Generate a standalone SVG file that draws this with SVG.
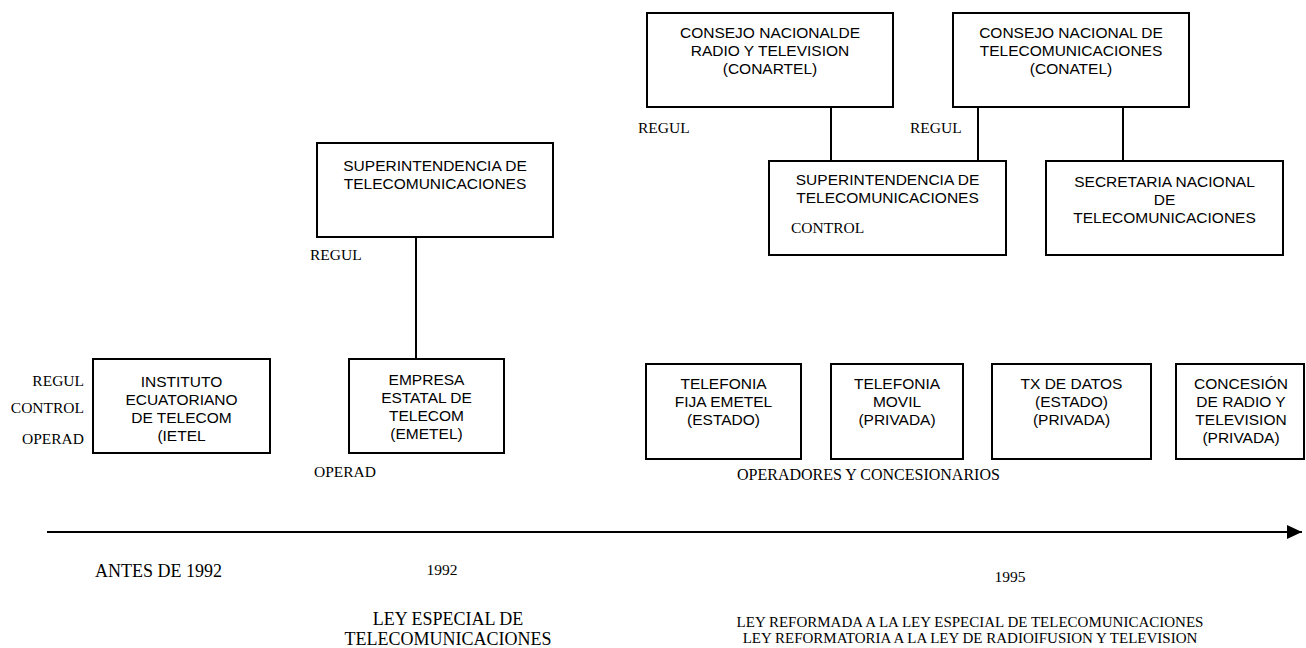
<svg xmlns="http://www.w3.org/2000/svg" width="1306" height="648" viewBox="0 0 1306 648">
<style>
.box{fill:#fff;stroke:#000;stroke-width:2}
.t{font-family:"Liberation Sans",Arial,sans-serif;font-size:15.5px;fill:#000;text-anchor:middle}
.s{font-family:"Liberation Serif","Times New Roman",serif;font-size:15.5px;fill:#000}
.e{text-anchor:end}
.m{text-anchor:middle}
.ln{stroke:#000;stroke-width:2;fill:none}
</style>
<defs>
<marker id="ah" markerWidth="15" markerHeight="14" refX="15" refY="7" orient="auto" markerUnits="userSpaceOnUse">
<path d="M0,0 L15,7 L0,14 Z" fill="#000"/>
</marker>
</defs>
<rect width="1306" height="648" fill="#fff"/>
<g id="connectors">
<line class="ln" x1="416" y1="237" x2="416" y2="359"/>
<line class="ln" x1="831" y1="107" x2="831" y2="161"/>
<line class="ln" x1="978" y1="107" x2="978" y2="161"/>
<line class="ln" x1="1123" y1="107" x2="1123" y2="161"/>
<line class="ln" x1="47" y1="532" x2="1302" y2="532" marker-end="url(#ah)"/>
</g>
<g id="ietel">
<rect class="box" x="93" y="359" width="177" height="94"/>
<text class="t" x="181.5" y="387">INSTITUTO</text>
<text class="t" x="181.5" y="405">ECUATORIANO</text>
<text class="t" x="181.5" y="423">DE TELECOM</text>
<text class="t" x="181.5" y="441">(IETEL</text>
</g>
<g id="labels-antes">
<text class="s e" x="84" y="386">REGUL</text>
<text class="s e" x="84" y="413">CONTROL</text>
<text class="s e" x="84" y="444">OPERAD</text>
</g>
<g id="supertel-1992">
<rect class="box" x="317" y="143" width="236" height="94"/>
<text class="t" x="435" y="171">SUPERINTENDENCIA DE</text>
<text class="t" x="435" y="189">TELECOMUNICACIONES</text>
</g>
<text class="s" x="310" y="260">REGUL</text>
<g id="emetel">
<rect class="box" x="349" y="359" width="155" height="94"/>
<text class="t" x="426.5" y="385">EMPRESA</text>
<text class="t" x="426.5" y="403">ESTATAL DE</text>
<text class="t" x="426.5" y="421">TELECOM</text>
<text class="t" x="426.5" y="439">(EMETEL)</text>
</g>
<text class="s" x="314" y="477">OPERAD</text>
<g id="conartel">
<rect class="box" x="647" y="13" width="246" height="94"/>
<text class="t" x="770" y="38">CONSEJO NACIONALDE</text>
<text class="t" x="770" y="56">RADIO Y TELEVISION</text>
<text class="t" x="770" y="74">(CONARTEL)</text>
</g>
<g id="conatel">
<rect class="box" x="953" y="13" width="236" height="94"/>
<text class="t" x="1071" y="38">CONSEJO NACIONAL DE</text>
<text class="t" x="1071" y="56">TELECOMUNICACIONES</text>
<text class="t" x="1071" y="74">(CONATEL)</text>
</g>
<text class="s" x="638" y="133">REGUL</text>
<text class="s" x="910" y="133">REGUL</text>
<g id="supertel-1995">
<rect class="box" x="769" y="161" width="237" height="94"/>
<text class="t" x="887.5" y="185">SUPERINTENDENCIA DE</text>
<text class="t" x="887.5" y="203">TELECOMUNICACIONES</text>
<text class="s" x="791" y="233">CONTROL</text>
</g>
<g id="senatel">
<rect class="box" x="1046" y="161" width="237" height="94"/>
<text class="t" x="1164.5" y="187">SECRETARIA NACIONAL</text>
<text class="t" x="1164.5" y="205">DE</text>
<text class="t" x="1164.5" y="223">TELECOMUNICACIONES</text>
</g>
<g id="fija">
<rect class="box" x="646" y="364" width="155" height="95"/>
<text class="t" x="723.5" y="389">TELEFONIA</text>
<text class="t" x="723.5" y="407">FIJA EMETEL</text>
<text class="t" x="723.5" y="425">(ESTADO)</text>
</g>
<g id="movil">
<rect class="box" x="831" y="364" width="132" height="95"/>
<text class="t" x="897" y="389">TELEFONIA</text>
<text class="t" x="897" y="407">MOVIL</text>
<text class="t" x="897" y="425">(PRIVADA)</text>
</g>
<g id="datos">
<rect class="box" x="992" y="364" width="159" height="95"/>
<text class="t" x="1071.5" y="389">TX DE DATOS</text>
<text class="t" x="1071.5" y="407">(ESTADO)</text>
<text class="t" x="1071.5" y="425">(PRIVADA)</text>
</g>
<g id="radio">
<rect class="box" x="1176" y="364" width="128" height="95"/>
<text class="t" x="1241" y="389">CONCESIÓN</text>
<text class="t" x="1241" y="407">DE RADIO Y</text>
<text class="t" x="1241" y="425">TELEVISION</text>
<text class="t" x="1241" y="443">(PRIVADA)</text>
</g>
<text class="s" x="737" y="480" style="font-size:16px">OPERADORES Y CONCESIONARIOS</text>
<g id="timeline-labels">
<text class="s" x="95" y="577" style="font-size:18px">ANTES DE 1992</text>
<text class="s m" x="442" y="575" style="font-size:15.5px">1992</text>
<text class="s m" x="1010" y="582" style="font-size:15.5px">1995</text>
<text class="s m" x="448" y="625" style="font-size:18px">LEY ESPECIAL DE</text>
<text class="s m" x="448" y="645" style="font-size:18px">TELECOMUNICACIONES</text>
<text class="s m" x="970" y="627" style="font-size:15px">LEY REFORMADA A LA LEY ESPECIAL DE TELECOMUNICACIONES</text>
<text class="s m" x="970" y="643" style="font-size:15px">LEY REFORMATORIA A LA LEY DE RADIOIFUSION Y TELEVISION</text>
</g>
</svg>
